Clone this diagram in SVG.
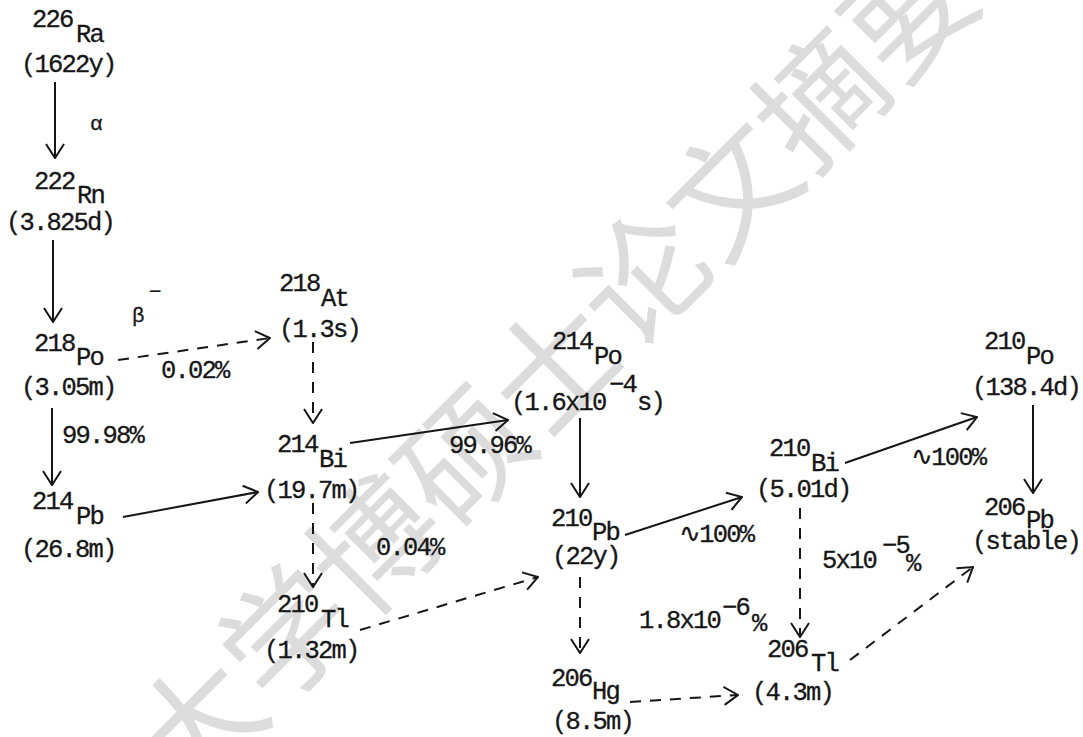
<svg xmlns="http://www.w3.org/2000/svg" width="1083" height="737" viewBox="0 0 1083 737">
<style>
text{font-family:"Liberation Mono","DejaVu Sans Mono",monospace;font-size:25.5px;letter-spacing:-1.8px;fill:#161616;stroke:#161616;stroke-width:0.3}
.wm{font-family:"Noto Sans CJK SC",sans-serif;font-size:126px;letter-spacing:0;fill:#dcdcdc;stroke:none}
.sm{font-size:21px;letter-spacing:0}
.ln{fill:none;stroke:#161616;stroke-width:2}
.dash{stroke-dasharray:11 9}
.head{fill:none;stroke:#161616;stroke-width:2;stroke-linejoin:miter}
</style>
<defs>
<marker id="ah" viewBox="0 0 16 20" refX="15" refY="10" markerWidth="16" markerHeight="20" markerUnits="userSpaceOnUse" orient="auto">
<path class="head" d="M1,1 L15,10 L1,19"/>
</marker>
</defs>
<rect width="1083" height="737" fill="#ffffff"/>
<text class="wm" x="587" y="400" text-anchor="middle" transform="rotate(-45 587 400)">大学博硕士论文摘要</text>

<g id="connectors">
<line class="ln" x1="55" y1="82" x2="55" y2="158" marker-end="url(#ah)"/>
<line class="ln" x1="53" y1="240" x2="53" y2="322" marker-end="url(#ah)"/>
<line class="ln" x1="52" y1="408" x2="52" y2="485" marker-end="url(#ah)"/>
<line class="ln" x1="123" y1="517" x2="258" y2="492" marker-end="url(#ah)"/>
<line class="ln" x1="350" y1="443" x2="508" y2="420" marker-end="url(#ah)"/>
<line class="ln" x1="580" y1="418" x2="580" y2="497" marker-end="url(#ah)"/>
<line class="ln" x1="625" y1="535" x2="742" y2="497" marker-end="url(#ah)"/>
<line class="ln" x1="845" y1="463" x2="977" y2="417" marker-end="url(#ah)"/>
<line class="ln" x1="1033" y1="405" x2="1033" y2="493" marker-end="url(#ah)"/>
<line class="ln dash" x1="118" y1="360" x2="270" y2="338" marker-end="url(#ah)"/>
<line class="ln dash" x1="313" y1="342" x2="313" y2="423" marker-end="url(#ah)"/>
<line class="ln dash" x1="313" y1="503" x2="313" y2="587" marker-end="url(#ah)"/>
<line class="ln dash" x1="360" y1="630" x2="538" y2="577" marker-end="url(#ah)"/>
<line class="ln dash" x1="580" y1="577" x2="580" y2="653" marker-end="url(#ah)"/>
<line class="ln dash" x1="800" y1="508" x2="800" y2="637" marker-end="url(#ah)"/>
<line class="ln dash" x1="630" y1="702" x2="738" y2="695" marker-end="url(#ah)"/>
<line class="ln dash" x1="850" y1="660" x2="973" y2="567" marker-end="url(#ah)"/>
</g>

<g id="labels">
<text class="sm" x="90" y="130">α</text>
<text class="sm" x="132" y="322">β</text>
<text class="sm" x="149" y="298">−</text>
<text x="161" y="378">0.02%</text>
<text x="62" y="443">99.98%</text>
<text x="449" y="453">99.96%</text>
<text x="376" y="555">0.04%</text>
<text x="679" y="542">∿100%</text>
<text x="911" y="465">∿100%</text>
<text x="822" y="568">5x10</text>
<text x="882" y="553">−5</text>
<text x="906" y="571">%</text>
<text x="639" y="628">1.8x10</text>
<text x="722" y="615">−6</text>
<text x="752" y="631">%</text>
</g>

<g id="Ra226"><text x="32" y="27">226</text><text x="76" y="42">Ra</text><text x="21" y="72">(1622y)</text></g>
<g id="Rn222"><text x="34" y="189">222</text><text x="77" y="203">Rn</text><text x="6" y="230">(3.825d)</text></g>
<g id="Po218"><text x="34" y="351">218</text><text x="76" y="365">Po</text><text x="21" y="395">(3.05m)</text></g>
<g id="Pb214"><text x="32" y="509">214</text><text x="76" y="524">Pb</text><text x="21" y="557">(26.8m)</text></g>
<g id="At218"><text x="279" y="291">218</text><text x="321" y="306">At</text><text x="279" y="337">(1.3s)</text></g>
<g id="Bi214"><text x="277" y="452">214</text><text x="319" y="467">Bi</text><text x="264" y="498">(19.7m)</text></g>
<g id="Tl210"><text x="277" y="612">210</text><text x="321" y="627">Tl</text><text x="264" y="658">(1.32m)</text></g>
<g id="Po214"><text x="552" y="349">214</text><text x="594" y="364">Po</text><text x="511" y="410">(1.6x10</text><text x="609" y="392">−4</text><text x="637" y="410">s)</text></g>
<g id="Pb210"><text x="551" y="526">210</text><text x="592" y="540">Pb</text><text x="552" y="564">(22y)</text></g>
<g id="Hg206"><text x="551" y="686">206</text><text x="592" y="699">Hg</text><text x="552" y="729">(8.5m)</text></g>
<g id="Bi210"><text x="769" y="456">210</text><text x="811" y="471">Bi</text><text x="756" y="497">(5.01d)</text></g>
<g id="Tl206"><text x="767" y="657">206</text><text x="811" y="671">Tl</text><text x="752" y="700">(4.3m)</text></g>
<g id="Po210"><text x="984" y="349">210</text><text x="1026" y="364">Po</text><text x="972" y="395">(138.4d)</text></g>
<g id="Pb206"><text x="984" y="515">206</text><text x="1026" y="528">Pb</text><text x="972" y="549">(stable)</text></g>
</svg>
